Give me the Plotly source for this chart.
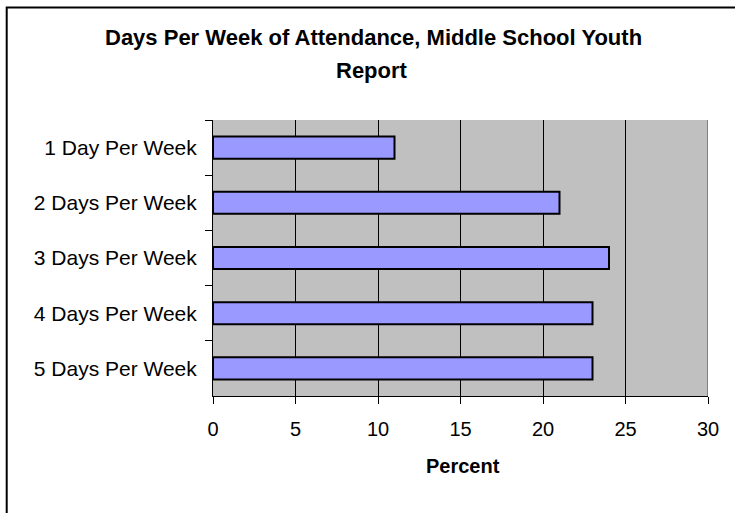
import plotly.graph_objects as go

categories = ["1 Day Per Week", "2 Days Per Week", "3 Days Per Week",
              "4 Days Per Week", "5 Days Per Week"]
percent = [11, 21, 24, 23, 23]
x_ticks = [0, 5, 10, 15, 20, 25, 30]
title_line1 = "Days Per Week of Attendance, Middle School Youth"
title_line2 = "Report"
x_title = "Percent"

W, H = 735, 513
L, R, T, B = 213.0, 708.5, 119.5, 396.5


def px(xp):
    return (xp - L) / (R - L)


def py(yp):
    return (B - yp) / (B - T)


fig = go.Figure(
    go.Bar(
        x=percent,
        y=categories,
        orientation="h",
        width=0.4,
        marker=dict(color="#9999FF", line=dict(color="black", width=2)),
        hoverinfo="x+y",
    )
)

fig.update_layout(
    width=W,
    height=H,
    autosize=False,
    margin=dict(l=L, r=W - R, t=T, b=H - B, pad=0),
    paper_bgcolor="white",
    plot_bgcolor="#C0C0C0",
    font=dict(family="Liberation Sans, Arial, sans-serif", color="black", size=20),
    showlegend=False,
    bargap=0.6,
)

fig.update_xaxes(
    range=[0, 30],
    tickvals=x_ticks,
    ticktext=[str(v) for v in x_ticks],
    ticks="outside",
    ticklen=7,
    tickwidth=1,
    tickcolor="black",
    showline=True,
    linecolor="black",
    linewidth=1,
    showgrid=True,
    gridcolor="black",
    gridwidth=1,
    zeroline=False,
    tickfont=dict(size=20),
    ticklabelstandoff=8,
    fixedrange=True,
)

fig.update_yaxes(
    categoryorder="array",
    categoryarray=categories,
    autorange="reversed",
    ticks="outside",
    tickson="boundaries",
    ticklen=7,
    tickwidth=1,
    tickcolor="black",
    showline=True,
    linecolor="black",
    linewidth=1,
    showgrid=False,
    tickfont=dict(size=21),
    ticklabelstandoff=11,
    fixedrange=True,
)

# outer chart border (only top/left visible in the frame)
fig.add_shape(type="rect", xref="paper", yref="paper",
              x0=px(6.5), x1=px(745), y0=py(525), y1=py(6.5),
              line=dict(color="black", width=2), fillcolor="rgba(0,0,0,0)",
              layer="below")
# right edge of plot area
fig.add_shape(type="line", xref="x", yref="paper", x0=30, x1=30, y0=0, y1=1,
              line=dict(color="#808080", width=2))

fig.add_annotation(text="<b>%s</b>" % title_line1, xref="paper", yref="paper",
                   x=px(373.5), y=py(37), xanchor="center", yanchor="middle",
                   showarrow=False, font=dict(size=22))
fig.add_annotation(text="<b>%s</b>" % title_line2, xref="paper", yref="paper",
                   x=px(372), y=py(70), xanchor="center", yanchor="middle",
                   showarrow=False, font=dict(size=22))
fig.add_annotation(text="<b>%s</b>" % x_title, xref="paper", yref="paper",
                   x=px(462.8), y=py(467), xanchor="center", yanchor="middle",
                   showarrow=False, font=dict(size=20))

fig.write_html(
    "out.html",
    config={"displayModeBar": False},
    post_script="document.body.style.margin='0';document.body.style.overflow='hidden';",
)
